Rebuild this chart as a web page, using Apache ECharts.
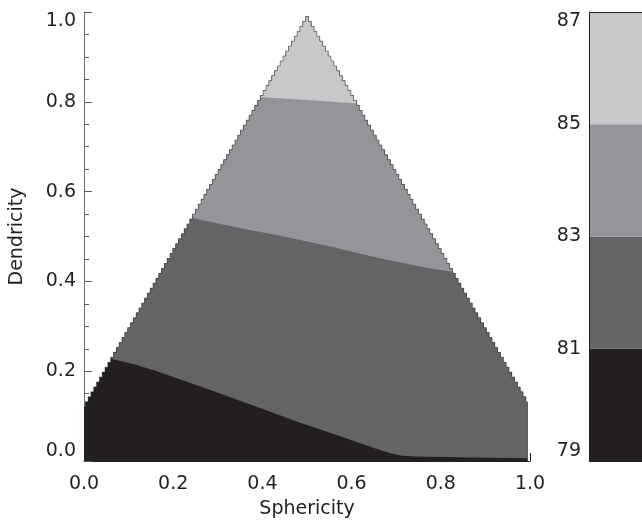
<!DOCTYPE html>
<html>
<head>
<meta charset="utf-8">
<script src="https://cdn.jsdelivr.net/npm/echarts@6/dist/echarts.min.js"></script>
<style>
  html, body { margin: 0; padding: 0; background: #ffffff; }
  #chart { width: 642px; height: 524px; }
</style>
</head>
<body>
<div id="chart"></div>
<script>
// Contour levels shown on the colour bar and the fill of each band between them
const levels = [79, 81, 83, 85, 87];
const bandColors = ['#231f20', '#636466', '#939598', '#c7c8ca'];

// Triangular domain of the gridded field: left base corner, apex, right base corner
const domainVertices = [[-0.07, 0], [0.5, 0.99], [1.07, 0]];
const domainXRange = [0, 0.995];
const rowHeight = 0.011;

// Contour lines (Sphericity, Dendricity), traced left to right
const baseLine = [[0, 0], [0.995, 0]];
const contour81 = [[0.06, 0.228], [0.11, 0.216], [0.16, 0.201], [0.21, 0.184], [0.265, 0.165],
                   [0.32, 0.145], [0.376, 0.125], [0.43, 0.105], [0.488, 0.084], [0.545, 0.065],
                   [0.599, 0.047], [0.65, 0.029], [0.685, 0.018], [0.71, 0.012], [0.74, 0.01],
                   [0.995, 0.006]];
const contour83 = [[0.243, 0.541], [0.29, 0.531], [0.332, 0.522], [0.39, 0.511], [0.443, 0.501],
                   [0.5, 0.489], [0.555, 0.477], [0.61, 0.464], [0.666, 0.451], [0.72, 0.44],
                   [0.777, 0.429], [0.822, 0.422]];
const contour85 = [[0.4, 0.81], [0.5, 0.804], [0.606, 0.797]];
const bandLowerEdges = [baseLine, contour81, contour83, contour85];

// Axis tick values
const unitTicks = [0, 0.2, 0.4, 0.6, 0.8, 1.0];
const FONT = 'DejaVu Sans';
const INK = '#231f20';

// Rows of the raster grid: each row's left and right extent inside the triangle
function edgeX(a, b, y) { return a[0] + (b[0] - a[0]) * (y - a[1]) / (b[1] - a[1]); }
const [baseLeft, apex, baseRight] = domainVertices;
const rows = [];
for (let j = 0; (j + 0.5) * rowHeight < apex[1]; j++) {
  const yc = (j + 0.5) * rowHeight;
  const xl = Math.max(domainXRange[0], edgeX(baseLeft, apex, yc));
  const xr = Math.min(domainXRange[1], edgeX(baseRight, apex, yc));
  if (xl < xr) rows.push({ y0: j * rowHeight, y1: (j + 1) * rowHeight, xl: xl, xr: xr });
}

// Region above a contour line: the line, then up the stepped right edge, down the stepped left edge
function regionAbove(line) {
  const yl = line[0][1], yr = line[line.length - 1][1];
  const pts = line.slice();
  rows.forEach(function (r) {
    if (r.y1 > yr) pts.push([r.xr, Math.max(r.y0, yr)], [r.xr, r.y1]);
  });
  for (let k = rows.length - 1; k >= 0; k--) {
    const r = rows[k];
    if (r.y1 > yl) pts.push([r.xl, r.y1], [r.xl, Math.max(r.y0, yl)]);
  }
  return pts;
}

// Stepped rim of the triangle (sloping sides only)
function rimPoints() {
  const pts = [];
  rows.forEach(function (r) { if (r.xl > domainXRange[0]) pts.push([r.xl, r.y0], [r.xl, r.y1]); });
  for (let k = rows.length - 1; k >= 0; k--) {
    const r = rows[k];
    if (r.xr < domainXRange[1]) pts.push([r.xr, r.y1], [r.xr, r.y0]);
  }
  return pts;
}

const labelStyle = { fontFamily: FONT, fontSize: 19, color: INK };

const option = {
  animation: false,
  backgroundColor: '#ffffff',
  grid: [
    { left: 81, top: 12, width: 449, height: 449 },
    { left: 589, top: 12, width: 70, height: 449 }
  ],
  xAxis: [
    {
      gridIndex: 0, type: 'value', min: unitTicks[0], max: unitTicks[unitTicks.length - 1], interval: 0.2,
      name: 'Sphericity', nameLocation: 'middle', nameGap: 39,
      nameTextStyle: labelStyle,
      axisLine: { show: true, onZero: false, lineStyle: { color: INK, width: 1 } },
      axisTick: { show: true, inside: true, length: 8, lineStyle: { color: INK } },
      minorTick: { show: true, splitNumber: 4, length: 5, lineStyle: { color: INK } },
      splitLine: { show: false },
      axisLabel: Object.assign({ margin: 14, formatter: function (v) { return v.toFixed(1); } }, labelStyle)
    },
    { gridIndex: 1, type: 'value', min: 0, max: 1, show: false }
  ],
  yAxis: [
    {
      gridIndex: 0, type: 'value', min: unitTicks[0], max: unitTicks[unitTicks.length - 1], interval: 0.2,
      name: 'Dendricity', nameLocation: 'middle', nameGap: 57,
      nameTextStyle: labelStyle,
      axisLine: { show: true, onZero: false, lineStyle: { color: '#6d6e71', width: 1 } },
      axisTick: { show: true, inside: true, length: 8, lineStyle: { color: '#58595b' } },
      minorTick: { show: true, splitNumber: 4, length: 5, lineStyle: { color: '#58595b' } },
      splitLine: { show: false },
      axisLabel: Object.assign({
        margin: 8,
        verticalAlignMinLabel: 'bottom', verticalAlignMaxLabel: 'top',
        formatter: function (v) { return v.toFixed(1); }
      }, labelStyle)
    },
    {
      gridIndex: 1, type: 'value', min: levels[0], max: levels[levels.length - 1], interval: 2,
      axisLine: { show: true, lineStyle: { color: INK, width: 1 } },
      axisTick: { show: false },
      splitLine: { show: false },
      axisLabel: Object.assign({
        margin: 8,
        verticalAlignMinLabel: 'bottom', verticalAlignMaxLabel: 'top'
      }, labelStyle)
    }
  ],
  series: [
    {
      // filled contour bands, painted from the lowest level upward
      type: 'custom', xAxisIndex: 0, yAxisIndex: 0, silent: true,
      data: bandLowerEdges.map(function (_, i) { return [i]; }),
      renderItem: function (params, api) {
        const i = api.value(0);
        const pts = regionAbove(bandLowerEdges[i]).map(function (p) { return api.coord(p); });
        return { type: 'polygon', shape: { points: pts }, style: { fill: bandColors[i] } };
      }
    },
    {
      // thin rim along the stepped edges of the triangle
      type: 'custom', xAxisIndex: 0, yAxisIndex: 0, silent: true, z: 3,
      data: [[0]],
      renderItem: function (params, api) {
        const pts = rimPoints().map(function (p) { return api.coord(p); });
        return { type: 'polyline', shape: { points: pts },
                 style: { fill: null, stroke: 'rgba(35,31,32,0.45)', lineWidth: 1 } };
      }
    },
    {
      // colour bar
      type: 'custom', xAxisIndex: 1, yAxisIndex: 1, silent: true,
      data: bandColors.map(function (_, i) { return [i]; }),
      renderItem: function (params, api) {
        const i = api.value(0);
        const p0 = api.coord([0, levels[i + 1]]);
        const p1 = api.coord([1, levels[i]]);
        return { type: 'rect', shape: { x: p0[0], y: p0[1], width: p1[0] - p0[0], height: p1[1] - p0[1] },
                 style: { fill: bandColors[i] } };
      }
    },
    {
      // colour bar frame
      type: 'custom', xAxisIndex: 1, yAxisIndex: 1, silent: true, z: 3,
      data: [[0]],
      renderItem: function (params, api) {
        const p0 = api.coord([0, levels[levels.length - 1]]);
        const p1 = api.coord([1, levels[0]]);
        return { type: 'rect', shape: { x: p0[0] + 0.5, y: p0[1] + 0.5, width: p1[0] - p0[0], height: p1[1] - p0[1] },
                 style: { fill: null, stroke: INK, lineWidth: 1 } };
      }
    }
  ]
};

const chart = echarts.init(document.getElementById('chart'), null, { renderer: 'canvas' });
chart.setOption(option);
</script>
</body>
</html>
